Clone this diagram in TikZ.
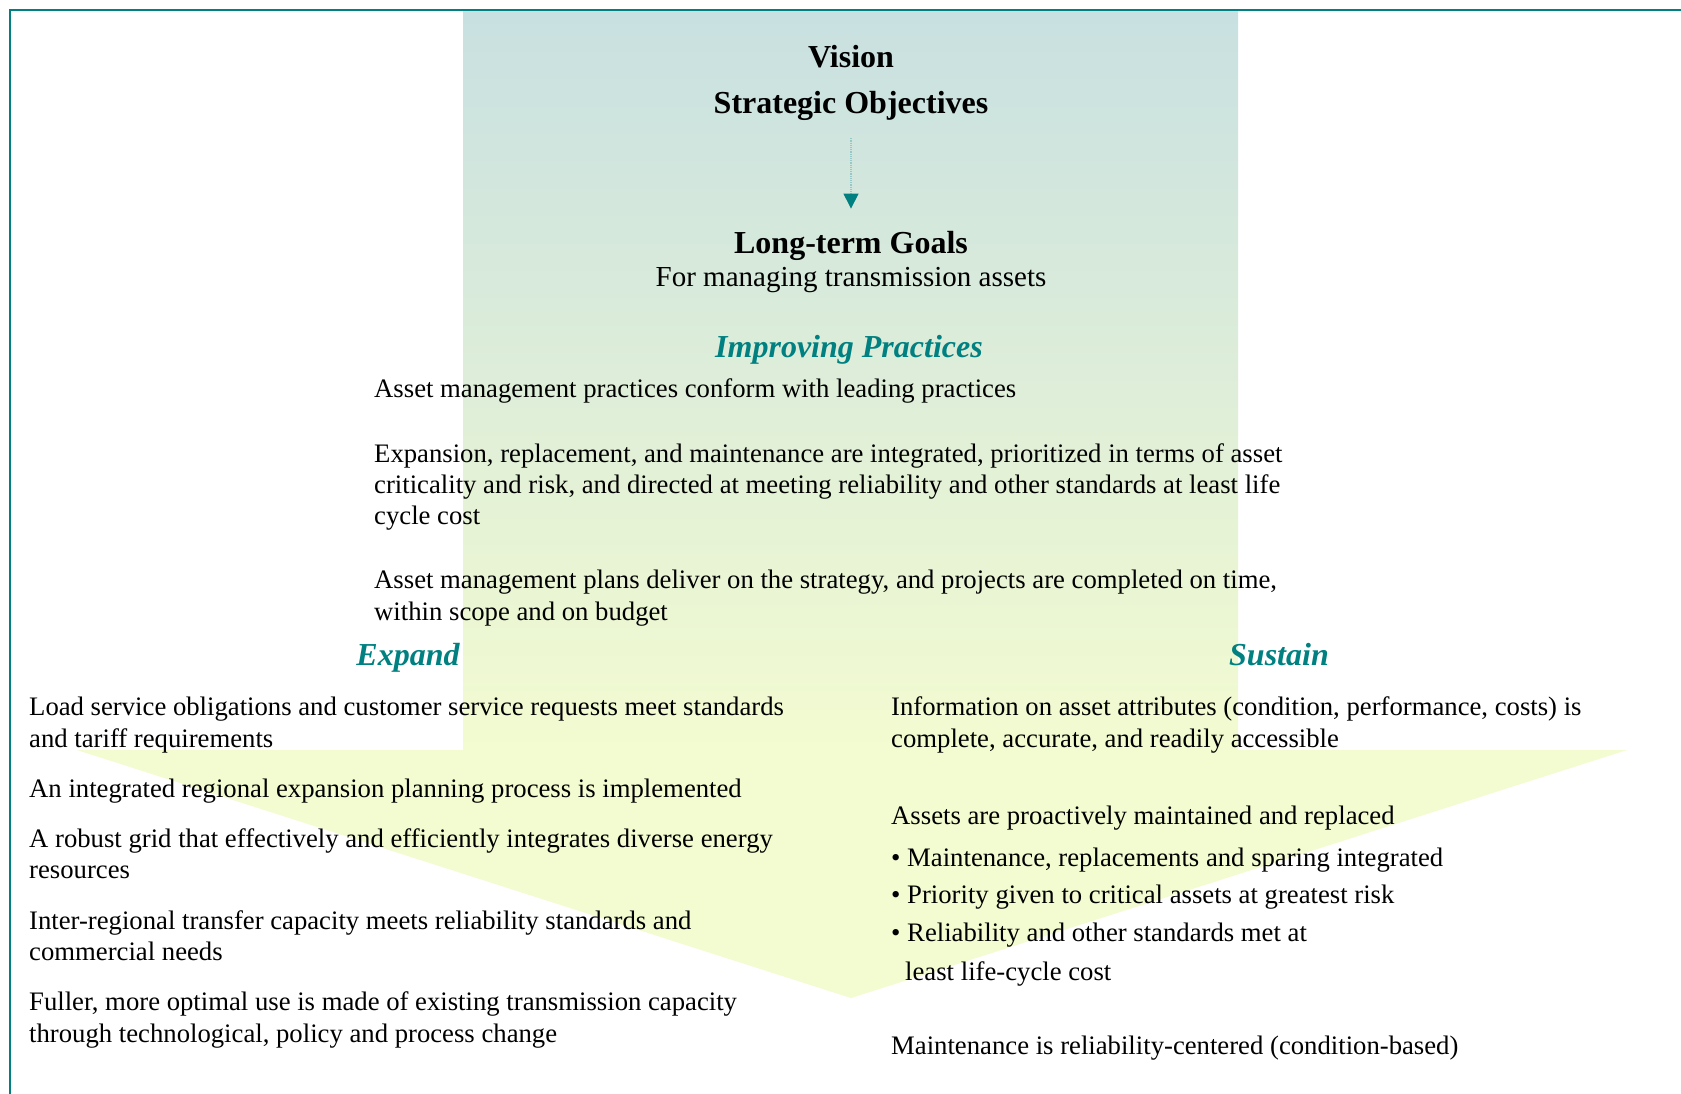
\documentclass[tikz,border=0pt]{standalone}
\usepackage{fontspec}
\setmainfont{Liberation Serif}
\usetikzlibrary{arrows.meta}
\definecolor{tealc}{RGB}{0,128,128}
\definecolor{shtop}{RGB}{200,224,225}
\definecolor{shbot}{RGB}{243,251,208}
\definecolor{dotc}{RGB}{150,200,200}
\tikzset{
  body/.style={anchor=base west, inner sep=0pt, font=\fontsize{26.7}{32}\selectfont},
  headtxt/.style={anchor=base, inner sep=0pt, font=\fontsize{32}{38}\selectfont\bfseries},
  subtxt/.style={anchor=base, inner sep=0pt, font=\fontsize{29}{34}\selectfont},
  secttxt/.style={anchor=base, inner sep=0pt, text=tealc, font=\fontsize{32}{38}\selectfont\bfseries\itshape},
  flow/.style={dotc, line width=1.2pt, densely dotted, -{Triangle[length=15pt,width=15pt,color=tealc]}, shorten <=17pt, shorten >=23pt},
  frame/.style={tealc, line width=2pt}
}
\begin{document}
\begin{tikzpicture}[x=1pt,y=-1pt]
\useasboundingbox (0,0) rectangle (1681,1094);
\fill[white] (0,0) rectangle (1681,1094);
% big arrow
\shade[top color=shtop, bottom color=shbot] (463,10) rectangle (1238,750.5);
\fill[shbot] (77,750) -- (1627,750) -- (851,998) -- cycle;
% frame
\draw[frame] (10,1094) -- (10,10) -- (1681,10);
% top
\node[headtxt] (vision) at (851,68) {Vision};
\node[headtxt] (strat) at (851,114) {Strategic Objectives};
\node[headtxt] (goals) at (851,254) {Long-term Goals};
\node[subtxt] (goalsub) at (851,286) {For managing transmission assets};
\draw[flow] (strat) -- (goals);
% improving practices
\node[secttxt] (impr) at (849,357) {Improving Practices};
\node[body] (p1) at (374,397) {Asset management practices conform with leading practices};
\node[body] (p2a) at (374,462) {Expansion, replacement, and maintenance are integrated, prioritized in terms of asset};
\node[body] (p2b) at (374,493) {criticality and risk, and directed at meeting reliability and other standards at least life};
\node[body] (p2c) at (374,524) {cycle cost};
\node[body] (p3a) at (374,588) {Asset management plans deliver on the strategy, and projects are completed on time,};
\node[body] (p3b) at (374,620) {within scope and on budget};
% expand
\node[secttxt] (expand) at (408,665) {Expand};
\node[body] (e1a) at (29,715) {Load service obligations and customer service requests meet standards};
\node[body] (e1b) at (29,747) {and tariff requirements};
\node[body] (e2) at (29,797) {An integrated regional expansion planning process is implemented};
\node[body] (e3a) at (29,847) {A robust grid that effectively and efficiently integrates diverse energy};
\node[body] (e3b) at (29,878) {resources};
\node[body] (e4a) at (29,929) {Inter-regional transfer capacity meets reliability standards and};
\node[body] (e4b) at (29,960) {commercial needs};
\node[body] (e5a) at (29,1010) {Fuller, more optimal use is made of existing transmission capacity};
\node[body] (e5b) at (29,1042) {through technological, policy and process change};
% sustain
\node[secttxt] (sustain) at (1279,665) {Sustain};
\node[body] (s1a) at (891,715) {Information on asset attributes (condition, performance, costs) is};
\node[body] (s1b) at (891,747) {complete, accurate, and readily accessible};
\node[body] (s2) at (891,824) {Assets are proactively maintained and replaced};
\node[body] (s2a) at (891,866) {\textbullet\ Maintenance, replacements and sparing integrated};
\node[body] (s2b) at (891,903) {\textbullet\ Priority given to critical assets at greatest risk};
\node[body] (s2c) at (891,941) {\textbullet\ Reliability and other standards met at};
\node[body] (s2d) at (905,980) {least life-cycle cost};
\node[body] (s3) at (891,1054) {Maintenance is reliability-centered (condition-based)};
\end{tikzpicture}
\end{document}
